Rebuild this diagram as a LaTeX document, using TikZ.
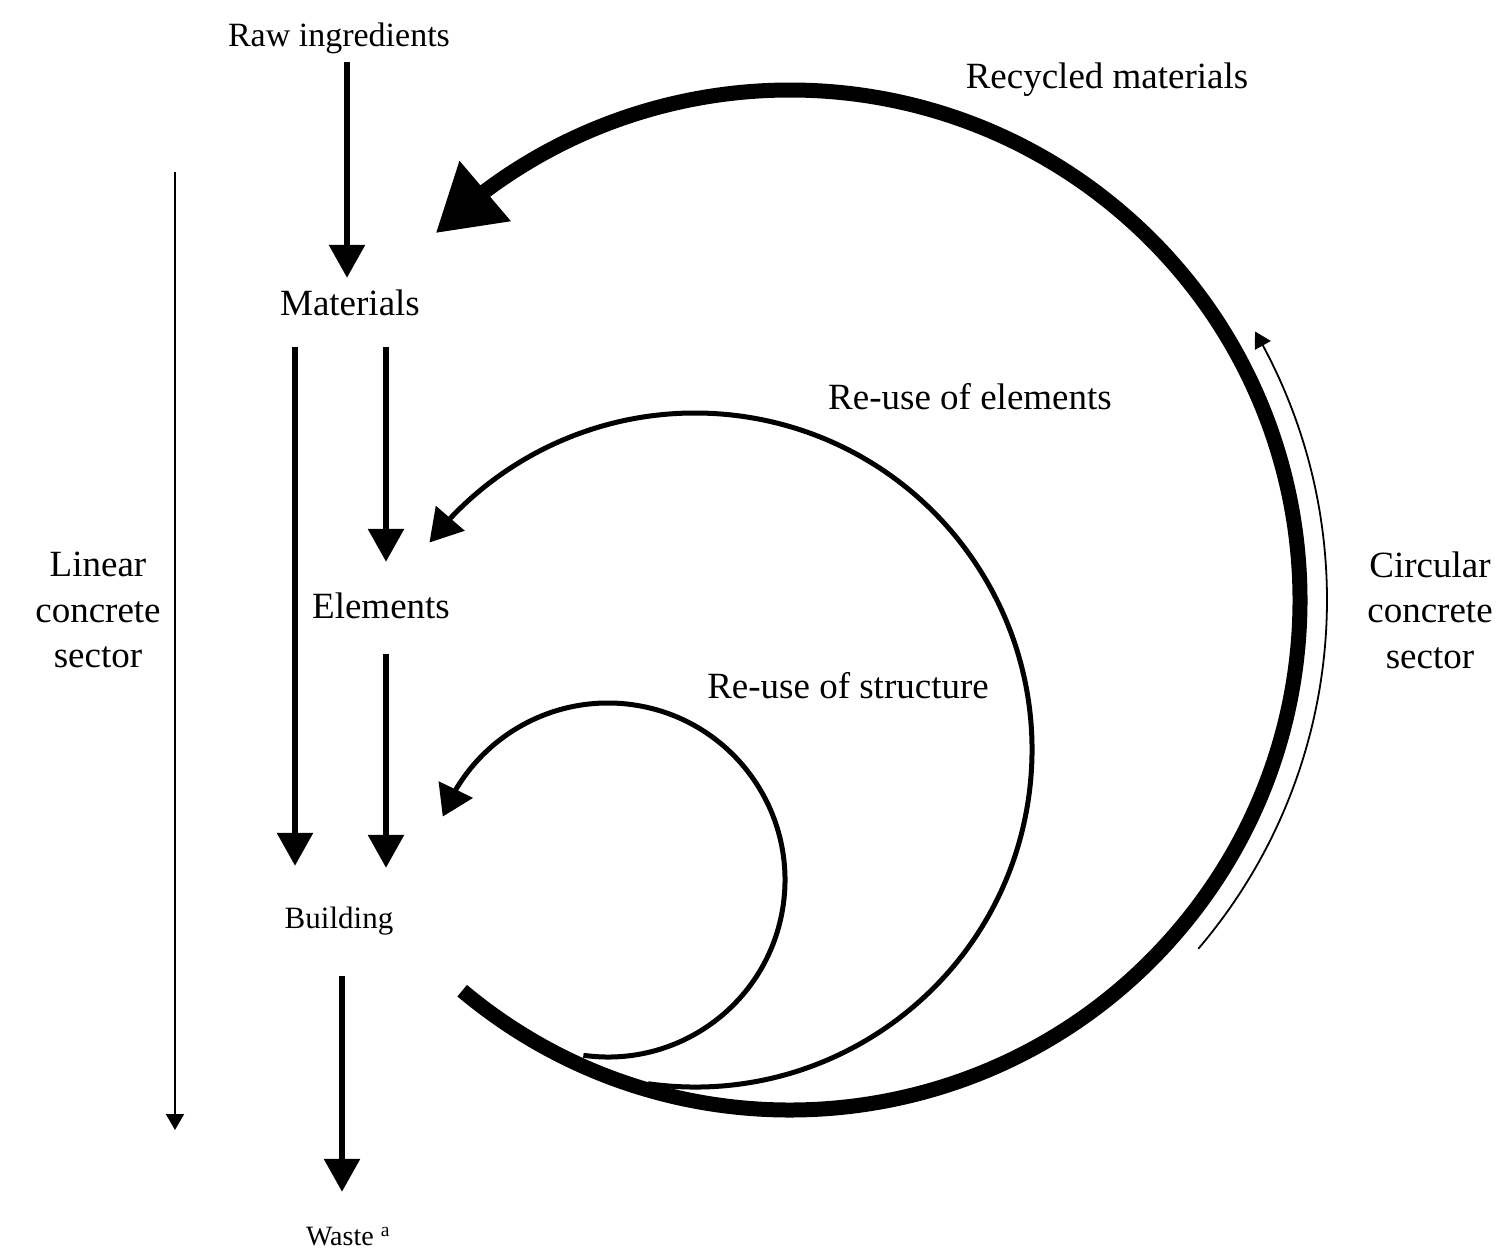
\documentclass[tikz,border=0pt]{standalone}
\usepackage{fontspec}
\setmainfont{Liberation Serif}
\usetikzlibrary{arrows.meta, bending}

\tikzset{
	lbl/.style={inner sep=0pt, text height=25pt, text depth=10pt, font=\fontsize{37}{45.5}\selectfont},
	sect/.style={inner sep=0pt, align=center, font=\fontsize{37}{45.5}\selectfont},
	flow/.style={line width=6pt, -{Triangle[length=33pt, width=35pt]}},
	guide/.style={line width=1.8pt, -{Triangle[length=16pt, width=18pt]}},
	bigloop/.style={line width=15pt, -{Triangle[length=65pt, width=75pt]}},
	midloop/.style={line width=5pt, -{Triangle[length=32pt, width=37pt]}},
}

\begin{document}
\begin{tikzpicture}[x=1pt, y=-1pt, line cap=butt, line join=miter]

\useasboundingbox (0,0) rectangle (1512,1257);

% linear chain
\node[lbl, font=\fontsize{34}{40}\selectfont] (raw) at (339,38.75) {Raw ingredients};
\node[lbl] (mat) at (350,307.75) {Materials};
\node[lbl] (ele) at (381,610.75) {Elements};
\node[lbl, font=\fontsize{31}{36}\selectfont] (bld) at (339,920.75) {Building};
\node[lbl, font=\fontsize{28}{32}\selectfont] (waste) at (348,1237.75) {Waste \textsuperscript{a}};

\draw[flow, shorten <=5.75pt, shorten >=12.25pt] ([xshift=8pt]raw.south) -- ([xshift=-3pt]mat.north);
\draw[flow, shorten <=21.75pt, shorten >=37.25pt] ([xshift=-55pt]mat.south) -- ([xshift=-44pt]bld.north);
\draw[flow, shorten <=21.75pt, shorten >=31.25pt] ([xshift=36pt]mat.south) -- ([xshift=5pt]ele.north);
\draw[flow, shorten <=25.75pt, shorten >=35.25pt] ([xshift=5pt]ele.south) -- ([xshift=47pt]bld.north);
\draw[flow, shorten <=37.75pt, shorten >=28.25pt] ([xshift=3pt]bld.south) -- ([xshift=-6pt]waste.north);

% loops
\coordinate (rc) at (790,600);
\coordinate (ec) at (695,750);
\coordinate (sc) at (608,880);

\draw[bigloop] (rc) ++(-230:510) arc[start angle=-230, end angle=-494, radius=510];
\draw[midloop] (ec) ++(-262:337) arc[start angle=-262, end angle=-502, radius=337];
\draw[midloop, -{Triangle[length=30pt, width=37pt]}] (sc) ++(-262:177) arc[start angle=-262, end angle=-519, radius=177];

\node[lbl] (recyc) at (1107,80.75) {Recycled materials};
\node[lbl] (reuseEl) at (970,401.75) {Re-use of elements};
\node[lbl] (reuseSt) at (848,690.75) {Re-use of structure};

% sectors
\coordinate (lintop) at (175,172);
\coordinate (linbot) at (175,1130);
\draw[guide] (lintop) -- (linbot);
\draw[guide] (rc) ++(40.5:537) arc[start angle=40.5, end angle=-30, radius=537];

\node[sect] (linear) at (98,610) {Linear\\concrete\\sector};
\node[sect] (circular) at (1430,610) {Circular\\concrete\\sector};

\end{tikzpicture}
\end{document}
